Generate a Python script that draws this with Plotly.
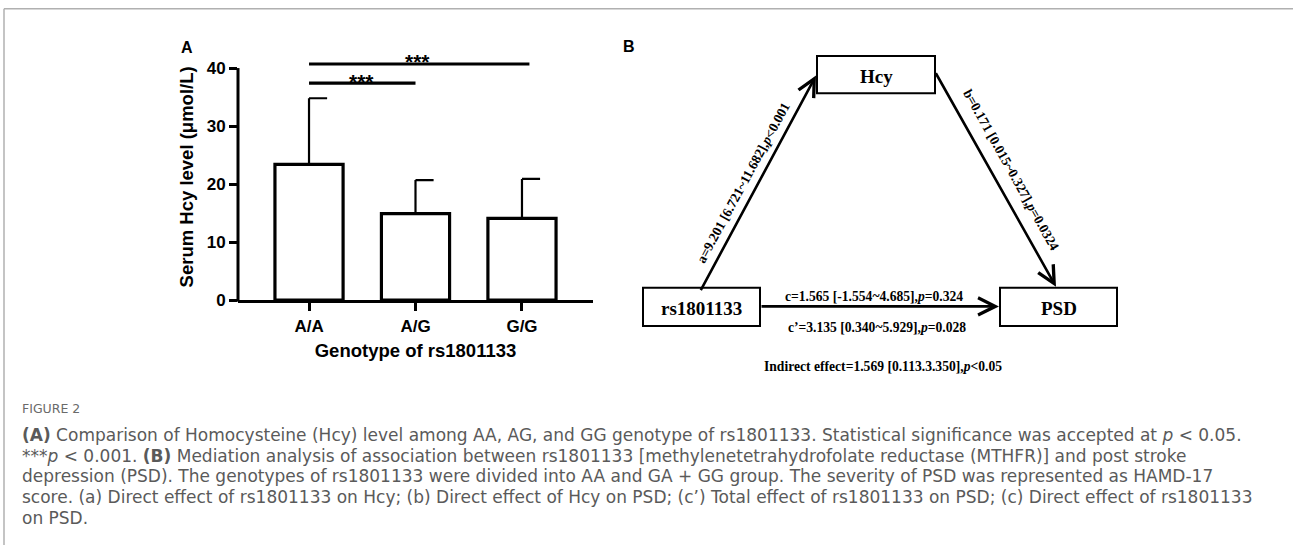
import plotly.graph_objects as go

# ---------------- data ----------------
genotypes = ["A/A", "A/G", "G/G"]
hcy_mean = [23.4, 14.9, 14.1]
hcy_sd = [11.4, 5.8, 6.8]
y_ticks = [0, 10, 20, 30, 40]
# significance brackets
sig_start = [0, 0]
sig_end = [1.0, 2.07]
sig_height = [37.4, 40.7]
sig_label = ["***", "***"]
sig_label_x = [0.49, 1.02]

# mediation model texts
node_hcy = "Hcy"
node_x = "rs1801133"
node_y = "PSD"
path_a = "a=9.201 [6.721~11.682],<i>p</i><0.001"
path_b = "b=0.171 [0.015~0.327],<i>p</i>=0.0324"
path_c = "c=1.565 [-1.554~4.685],<i>p</i>=0.324"
path_c2 = "c\u2019=3.135 [0.340~5.929],<i>p</i>=0.028"
indirect = "Indirect effect=1.569 [0.113.3.350],<i>p</i><0.05"

caption_title = "FIGURE 2"
caption_lines = [
    "<b>(A)</b> Comparison of Homocysteine (Hcy) level among AA, AG, and GG genotype of rs1801133. Statistical significance was accepted at <i>p</i> < 0.05.",
    "***<i>p</i> < 0.001. <b>(B)</b> Mediation analysis of association between rs1801133 [methylenetetrahydrofolate reductase (MTHFR)] and post stroke",
    "depression (PSD). The genotypes of rs1801133 were divided into AA and GA + GG group. The severity of PSD was represented as HAMD-17",
    "score. (a) Direct effect of rs1801133 on Hcy; (b) Direct effect of Hcy on PSD; (c\u2019) Total effect of rs1801133 on PSD; (c) Direct effect of rs1801133",
    "on PSD.",
]

# ---------------- layout helpers ----------------
W, H = 1293, 555
def px(x):
    return x / W
def py(y):
    return 1 - y / H

ARIAL = "Arial, Liberation Sans, sans-serif"
TIMES = "Times New Roman, Liberation Serif, serif"
CAP = "DejaVu Sans, Open Sans, sans-serif"

# panel A geometry (pixels)
ax_left, ax_right = 238, 593
y0_px, y40_px = 305.7, 69.3
ymax = 42.5
px_per_unit = (y0_px - y40_px) / 40.0
ytop_px = y0_px - ymax * px_per_unit

fig = go.Figure()

fig.add_trace(go.Bar(
    x=list(range(len(genotypes))), y=hcy_mean, width=0.64,
    marker=dict(color="white", line=dict(color="black", width=3.2)),
    xaxis="x", yaxis="y", showlegend=False, hoverinfo="skip",
))

# one-sided error bars (upper, cap to the right)
cap = 0.17
ex, ey = [], []
for i, (m, s) in enumerate(zip(hcy_mean, hcy_sd)):
    ex += [i, i, None, i, i + cap, None]
    ey += [m, m + s, None, m + s, m + s, None]
fig.add_trace(go.Scatter(x=ex, y=ey, mode="lines",
                         line=dict(color="black", width=2.2),
                         xaxis="x", yaxis="y", showlegend=False, hoverinfo="skip"))

# significance bars
sx, sy = [], []
for a, b, h in zip(sig_start, sig_end, sig_height):
    sx += [a, b, None]
    sy += [h, h, None]
fig.add_trace(go.Scatter(x=sx, y=sy, mode="lines",
                         line=dict(color="black", width=3.2),
                         xaxis="x", yaxis="y", showlegend=False, hoverinfo="skip"))

annotations = []
shapes = []

def note(x, y, text, font, **kw):
    d = dict(x=px(x), y=py(y), xref="paper", yref="paper", text=text, showarrow=False,
             xanchor="center", yanchor="middle", font=font)
    d.update(kw)
    annotations.append(d)

for lx, h, lab in zip(sig_label_x, sig_height, sig_label):
    annotations.append(dict(x=lx, y=h, xref="x", yref="y", text="<b>" + lab + "</b>",
                            showarrow=False, xanchor="center", yanchor="middle", yshift=2,
                            font=dict(family=ARIAL, size=21, color="black")))

# y axis line (stops at 40)
shapes.append(dict(type="line", xref="paper", yref="paper",
                   x0=px(ax_left), x1=px(ax_left), y0=py(y0_px + 1.5), y1=py(y40_px),
                   line=dict(color="black", width=3)))

# panel labels
note(187, 48, "<b>A</b>", dict(family=ARIAL, size=16, color="black"))
note(629, 47, "<b>B</b>", dict(family=ARIAL, size=16, color="black"))

# ---------------- panel B diagram ----------------
boxes = {
    node_hcy: (817, 57, 935, 95),
    node_x: (643, 293, 760, 332),
    node_y: (1000, 293, 1117, 332),
}
for name, (x0, y0, x1, y1) in boxes.items():
    shapes.append(dict(type="rect", xref="paper", yref="paper",
                       x0=px(x0), x1=px(x1), y0=py(y1), y1=py(y0),
                       line=dict(color="black", width=2), fillcolor="white"))
    note((x0 + x1) / 2, (y0 + y1) / 2 + 2, "<b>" + name + "</b>",
         dict(family=TIMES, size=19, color="black"))

arrows = [((700, 293), (816, 77)), ((935, 77), (1056, 292)), ((760, 312), (999, 312))]
for (tx, ty), (hx, hy) in arrows:
    annotations.append(dict(x=px(hx), y=py(hy), xref="paper", yref="paper",
                            ax=tx - hx, ay=ty - hy, axref="pixel", ayref="pixel",
                            text="", showarrow=True, arrowhead=5, arrowsize=1.3,
                            arrowwidth=2.6, arrowcolor="black"))

lab_font = dict(family=TIMES, size=13.6, color="black")
note(743.5, 186, "<b>" + path_a + "</b>", lab_font, textangle=-61.5)
note(1011.5, 173.5, "<b>" + path_b + "</b>", lab_font, textangle=60.8)
note(874, 301.5, "<b>" + path_c + "</b>", lab_font)
note(877, 333, "<b>" + path_c2 + "</b>", lab_font)
note(883, 373, "<b>" + indirect + "</b>", lab_font)

# ---------------- caption ----------------
note(20, 416, caption_title, dict(family=CAP, size=12.5, color="#6a6a6a"), xanchor="left")
for k, line in enumerate(caption_lines):
    note(20, 443 + 21 * k, line, dict(family=CAP, size=17, color="#5a5a5a"), xanchor="left")

# card border (top + left)
shapes.append(dict(type="line", xref="paper", yref="paper", x0=px(4), x1=1, y0=py(9), y1=py(9),
                   line=dict(color="#b0b0b0", width=1.5)))
shapes.append(dict(type="line", xref="paper", yref="paper", x0=px(4), x1=px(4), y0=py(9), y1=0,
                   line=dict(color="#b0b0b0", width=1.5)))

fig.update_layout(
    width=W, height=H, margin=dict(l=0, r=0, t=0, b=0),
    paper_bgcolor="white", plot_bgcolor="white", showlegend=False,
    xaxis=dict(domain=[px(ax_left), px(ax_right)], range=[-0.667, 2.667],
               tickmode="array", tickvals=list(range(len(genotypes))), ticktext=genotypes,
               showline=True, linecolor="black", linewidth=3, mirror=False,
               ticks="outside", ticklen=8, tickwidth=2.5, tickcolor="black",
               showgrid=False, zeroline=False,
               tickfont=dict(family=ARIAL, size=17, color="black", weight="bold"),
               title=dict(text="<b>Genotype of rs1801133</b>", standoff=10,
                          font=dict(family=ARIAL, size=18.5, color="black"))),
    yaxis=dict(domain=[py(y0_px), py(ytop_px)], range=[0, ymax],
               tickmode="array", tickvals=y_ticks,
               showline=False, ticks="outside", ticklen=8, tickwidth=2.5, tickcolor="black",
               showgrid=False, zeroline=False,
               tickfont=dict(family=ARIAL, size=17, color="black", weight="bold"),
               title=dict(text="<b>Serum Hcy level (\u03bcmol/L)</b>", standoff=8,
                          font=dict(family=ARIAL, size=18.5, color="black"))),
    annotations=annotations, shapes=shapes,
)

fig.write_html("out.html", config={"displayModeBar": False},
               post_script="document.body.style.margin='0px';")
